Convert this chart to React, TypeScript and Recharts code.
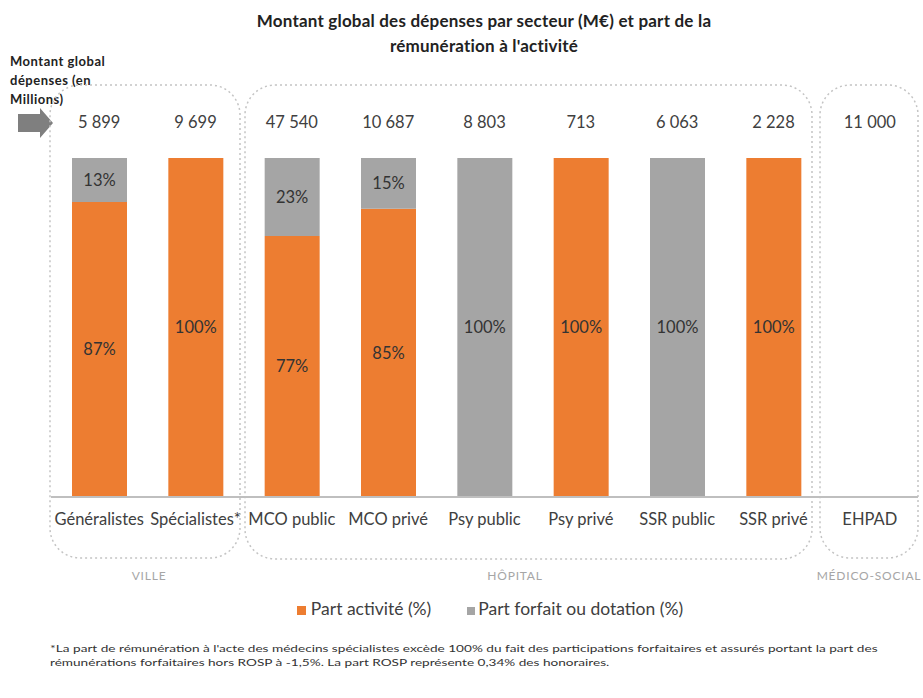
import { BarChart, Bar, XAxis, YAxis, LabelList } from 'recharts';

const categories = ['Généralistes', 'Spécialistes*', 'MCO public', 'MCO privé', 'Psy public', 'Psy privé', 'SSR public', 'SSR privé', 'EHPAD'];
const montants = ['5 899', '9 699', '47 540', '10 687', '8 803', '713', '6 063', '2 228', '11 000'];
const partActivite = [87, 100, 77, 85, 0, 100, 0, 100, 0];
const partForfait = [13, 0, 23, 15, 100, 0, 100, 0, 0];

const ORANGE = '#ED7D31';
const GREY = '#A5A5A5';
const FONT = 'Lato, "Open Sans", sans-serif';

const data = categories.map((name, i) => ({
  name,
  montant: montants[i],
  activite: partActivite[i],
  forfait: partForfait[i],
}));

const pct = (v: any) => (v ? `${v}%` : '');

const TopTick = (props: any) => {
  const { x, y, payload } = props;
  return (
    <text x={x} y={y - 22} textAnchor="middle" fontSize={16.5} fill="#404040" fontFamily={FONT}>
      {payload.value}
    </text>
  );
};

export default function App() {
  return (
    <div style={{ position: 'absolute', left: 0, top: 0, width: 923, height: 698, background: '#fff', fontFamily: FONT }}>
      <div style={{ position: 'absolute', left: 0, top: 8, width: 968, textAlign: 'center', fontWeight: 700, fontSize: 17, lineHeight: '25px', letterSpacing: 0.2, color: '#222' }}>
        Montant global des dépenses par secteur (M€) et part de la<br />rémunération à l'activité
      </div>
      <div style={{ position: 'absolute', left: 10, top: 52, fontWeight: 700, fontSize: 13, lineHeight: '19px', letterSpacing: 0.5, color: '#222' }}>
        Montant global<br />dépenses (en<br />Millions)
      </div>
      <svg width={923} height={698} style={{ position: 'absolute', left: 0, top: 0 }}>
        <polygon points="18,114 40,114 40,108 53,123 40,138 40,132 18,132" fill="#7f7f7f" />
        <g fill="none" stroke="#c4c4c4" strokeWidth={1.5} strokeDasharray="2 3">
          <rect x={50} y={85} width={190} height={473} rx={30} />
          <rect x={245} y={85} width={567} height={474} rx={30} />
          <rect x={820} y={85} width={98} height={473} rx={30} />
        </g>
        <g fontSize={12} fill="#a6a6a6" textAnchor="middle" fontFamily={FONT} letterSpacing={0.8}>
          <text x={149} y={580}>VILLE</text>
          <text x={515} y={580}>HÔPITAL</text>
          <text x={869} y={580}>MÉDICO-SOCIAL</text>
        </g>
      </svg>
      <div style={{ position: 'absolute', left: 0, top: 0 }}>
        <BarChart width={923} height={698} data={data} margin={{ top: 128, right: 5, bottom: 166, left: 51 }} barSize={55}>
          <XAxis
            dataKey="name"
            axisLine={{ stroke: '#bfbfbf', strokeWidth: 2 }}
            tickLine={false}
            height={35}
            interval={0}
            tick={{ fontSize: 16.5, fill: '#404040', fontFamily: FONT }}
            tickMargin={10}
          />
          <XAxis xAxisId="top" orientation="top" dataKey="montant" height={30} axisLine={false} tickLine={false} interval={0} tick={<TopTick />} />
          <YAxis hide domain={[0, 100]} />
          <Bar dataKey="activite" stackId="a" fill={ORANGE} isAnimationActive={false}>
            <LabelList dataKey="activite" position="center" formatter={pct} fill="#333" fontSize={16.5} fontFamily={FONT} />
          </Bar>
          <Bar dataKey="forfait" stackId="a" fill={GREY} isAnimationActive={false}>
            <LabelList dataKey="forfait" position="center" formatter={pct} fill="#333" fontSize={16.5} fontFamily={FONT} />
          </Bar>
        </BarChart>
      </div>
      <div style={{ position: 'absolute', left: 0, top: 598, width: 980, display: 'flex', justifyContent: 'center', alignItems: 'center', gap: 36, fontSize: 17.5, color: '#404040' }}>
        <span><span style={{ display: 'inline-block', width: 9, height: 9, background: ORANGE, marginRight: 5 }} />Part activité (%)</span>
        <span><span style={{ display: 'inline-block', width: 8, height: 8, background: GREY, marginRight: 3 }} />Part forfait ou dotation (%)</span>
      </div>
      <div style={{ position: 'absolute', left: 50, top: 641, fontSize: 10, lineHeight: '14px', color: '#333', whiteSpace: 'nowrap', transform: 'scaleX(1.36)', transformOrigin: 'left top' }}>
        *La part de rémunération à l'acte des médecins spécialistes excède 100% du fait des participations forfaitaires et assurés portant la part des<br />
        rémunérations forfaitaires hors ROSP à -1,5%. La part ROSP représente 0,34% des honoraires.
      </div>
    </div>
  );
}
